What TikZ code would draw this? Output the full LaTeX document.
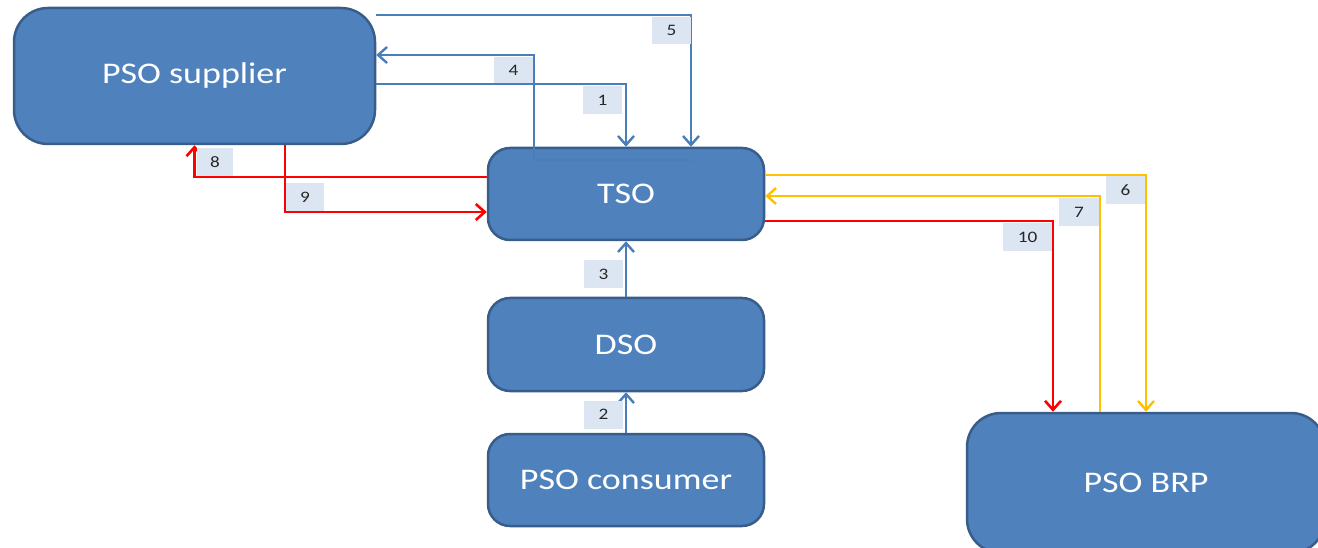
\documentclass[tikz,border=0pt]{standalone}
\usepackage{fontspec}
\setmainfont{Carlito}
\newfontfamily\widefont{Carlito}[FakeStretch=1.2]
\usetikzlibrary{arrows.meta}
\definecolor{boxfill}{HTML}{4F81BD}
\definecolor{boxline}{HTML}{385D8A}
\definecolor{linkblue}{HTML}{4A7EBB}
\definecolor{linkred}{HTML}{FF0000}
\definecolor{linkgold}{HTML}{FFC000}
\definecolor{tagfill}{HTML}{DCE6F2}
\begin{document}
\begin{tikzpicture}[x=1pt,y=-1pt,
  actor/.style={draw=boxline, line width=2.5pt, fill=boxfill, rounded corners=#1,
    text=white, font=\widefont\fontsize{30}{35}\selectfont, inner sep=0pt},
  actor/.default=22pt,
  tag/.style={fill=tagfill, inner sep=0pt, minimum height=28pt,
    text=black!85, font=\widefont\fontsize{16}{19}\selectfont},
  link/.style={line width=2.4pt, -{Straight Barb[length=9pt,width=16pt]}},
  bluelink/.style={link, draw=linkblue},
  redlink/.style={link, draw=linkred, line width=2.6pt},
  goldlink/.style={link, draw=linkgold}
]
\useasboundingbox (0,0) rectangle (1318,548);
\clip (0,0) rectangle (1318,548);

% parties
\node[actor=34pt, minimum width=361pt, minimum height=136pt] (sup) at (194.5,76) {PSO supplier};
\node[actor, minimum width=276pt, minimum height=92pt] (tso) at (626,194) {TSO};
\node[actor, minimum width=276pt, minimum height=93pt] (dso) at (626,344.5) {DSO};
\node[actor, minimum width=276pt, minimum height=92pt] (con) at (626,480) {PSO consumer};
\node[actor=34pt, minimum width=358pt, minimum height=140pt] (brp) at (1146,483) {PSO BRP};

% supplier <-> TSO (blue)
\draw[bluelink] (sup.east |- 0,15) -| ([xshift=65pt]tso.north);
\draw[bluelink] ([xshift=66pt,yshift=-13pt]tso.north) -- ([xshift=-92pt,yshift=-13pt]tso.north)
  |- (sup.east |- 0,55);
\draw[bluelink] (sup.east |- 0,84) -| (tso.north);

% chain consumer -> DSO -> TSO
\draw[bluelink] (dso.north) -- (tso.south);
\draw[bluelink] (con.north) -- (dso.south);

% supplier <-> TSO (red)
\draw[redlink] (tso.west |- 0,177) -| (sup.south);
\draw[redlink] ([xshift=90.5pt]sup.south) |- (tso.west |- 0,212);

% TSO <-> BRP
\draw[goldlink] (tso.east |- 0,175) -| (brp.north);
\draw[goldlink] ([xshift=-46pt]brp.north) |- (tso.east |- 0,196);
\draw[redlink] (tso.east |- 0,221) -| ([xshift=-93pt]brp.north);

% step numbers
\node[tag, minimum width=39pt] (t1) at (602.5,100) {1};
\node[tag, minimum width=39pt] (t2) at (603.5,414.5) {2};
\node[tag, minimum width=39pt] (t3) at (603.5,274.5) {3};
\node[tag, minimum width=39pt, minimum height=26pt] (t4) at (513.5,70) {4};
\node[tag, minimum width=39pt, minimum height=27pt] (t5) at (671.5,30.5) {5};
\node[tag, minimum width=39pt] (t6) at (1125.5,190) {6};
\node[tag, minimum width=40pt] (t7) at (1079,212) {7};
\node[tag, minimum width=36pt] (t8) at (215,162) {8};
\node[tag, minimum width=38pt] (t9) at (305,197) {9};
\node[tag, minimum width=49pt] (t10) at (1027.5,237) {10};
\end{tikzpicture}
\end{document}
